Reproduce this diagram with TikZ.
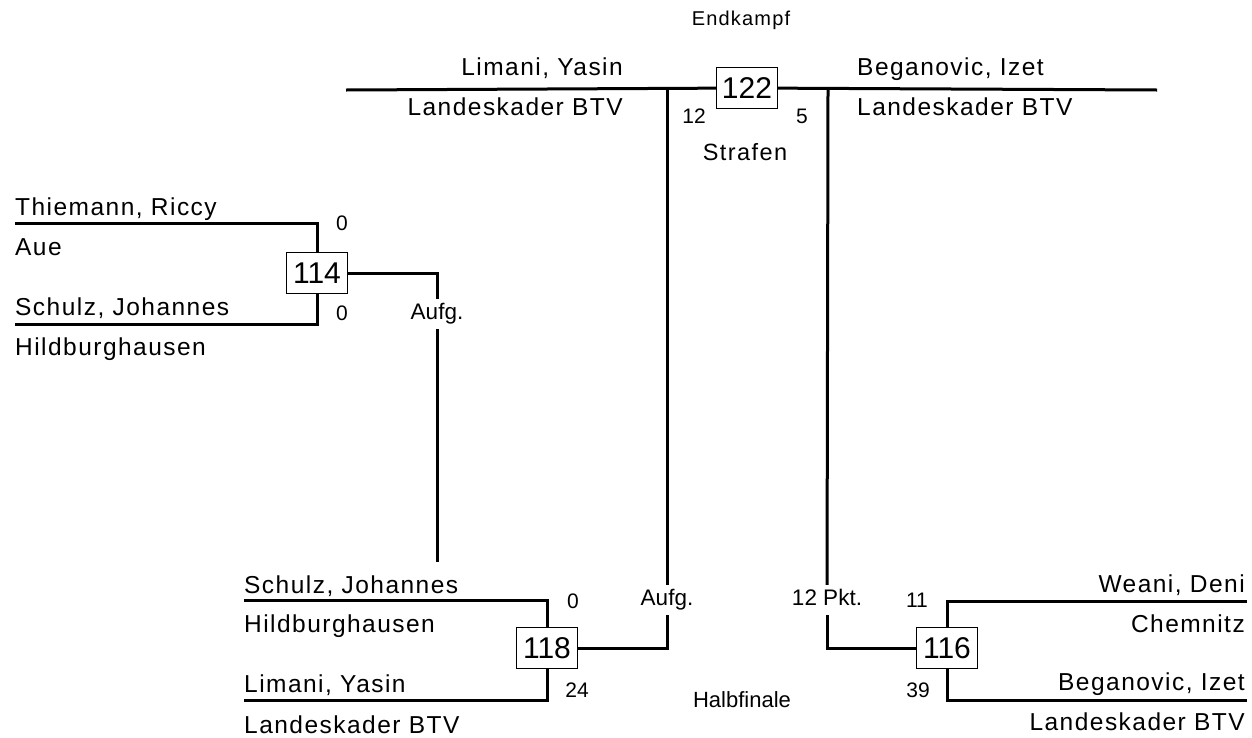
\documentclass[tikz,border=0pt]{standalone}
\usepackage{fontspec}
\setmainfont{Liberation Sans}
\newfontfamily\spaced[LetterSpace=6]{Liberation Sans}
\usepackage{tikz}
\usetikzlibrary{positioning}
\tikzset{wire/.style={line width=3pt},
  fighter/.style={inner sep=0pt, font=\spaced\fontsize{24.5}{27}\selectfont},
  score/.style={inner sep=0pt, font=\fontsize{21}{23}\selectfont},
  result/.style={inner sep=0pt, text height=15pt, text depth=5pt, inner ysep=5pt, font=\fontsize{22.5}{25}\selectfont},
  bout/.style={draw, line width=1pt, inner sep=0pt, minimum width=61pt, minimum height=41pt, font=\fontsize{30}{32}\selectfont}}

\begin{document}
\begin{tikzpicture}[x=1pt, y=-1pt]
                \useasboundingbox (0,0) rectangle (1252,737);

                % Endkampf
                \node [score, font=\spaced\fontsize{20}{22}\selectfont] (ek) at (741,20) {Endkampf};
                \node [bout] (m122) at (747,88) {122};
                \coordinate (f1) at (346,90);
                \coordinate (f2) at (1157,90);
                \coordinate (k1) at (667,90);
                \coordinate (k2) at (828,90);
                \node [fighter, anchor=base east] (fa) at (623,75) {Limani, Yasin};
                \node [fighter, anchor=base east] (fb) at (623,115) {Landeskader BTV};
                \node [fighter, anchor=base west] (fc) at (857,75) {Beganovic, Izet};
                \node [fighter, anchor=base west] (fd) at (857,115) {Landeskader BTV};
                \node [score, anchor=base] (s122a) at (694,123) {12};
                \node [score, anchor=base] (s122b) at (802,123) {5};
                \node [score, anchor=base, font=\spaced\fontsize{23.5}{26}\selectfont] (st) at (745,160) {Strafen};

                \path[wire] (f1) edge (m122) (m122) edge (f2);

                % Kampf 114
                \node [bout] (m114) at (317,273) {114};
                \coordinate (p1) at (15,223);
                \coordinate (p2) at (15,324);
                \coordinate (e114) at (437,562);
                \node [fighter, anchor=base west] (na) at (15,215) {Thiemann, Riccy};
                \node [fighter, anchor=base west] (nb) at (15,255) {Aue};
                \node [fighter, anchor=base west] (nc) at (15,315) {Schulz, Johannes};
                \node [fighter, anchor=base west] (nd) at (15,355) {Hildburghausen};
                \node [score, anchor=base] (s114a) at (342,230) {0};
                \node [score, anchor=base] (s114b) at (342,320) {0};
                \node [result] (a114) at (437,314) {Aufg.};

                \draw[wire] (p1) -| (m114);
                \draw[wire] (p2) -| (m114);
                \draw[wire] (m114) -| (a114);
                \draw[wire] (a114) -- (e114);

                % Kampf 118
                \node [bout] (m118) at (547,648) {118};
                \coordinate (q1) at (244,600);
                \coordinate (q2) at (244,700);
                \node [fighter, anchor=base west] (ne) at (244,593) {Schulz, Johannes};
                \node [fighter, anchor=base west] (nf) at (244,632) {Hildburghausen};
                \node [fighter, anchor=base west] (ng) at (244,692) {Limani, Yasin};
                \node [fighter, anchor=base west] (nh) at (244,733) {Landeskader BTV};
                \node [score, anchor=base] (s118a) at (573,608) {0};
                \node [score, anchor=base] (s118b) at (577,697) {24};
                \node [result] (a118) at (667,600) {Aufg.};

                \draw[wire] (q1) -| (m118);
                \draw[wire] (q2) -| (m118);
                \draw[wire] (m118) -| (a118);
                \draw[wire] (a118) -- (k1);

                % Kampf 116
                \node [bout] (m116) at (947,648) {116};
                \coordinate (r1) at (1247,601);
                \coordinate (r2) at (1247,700);
                \node [fighter, anchor=base east] (ni) at (1245,592) {Weani, Deni};
                \node [fighter, anchor=base east] (nj) at (1245,632) {Chemnitz};
                \node [fighter, anchor=base east] (nk) at (1245,690) {Beganovic, Izet};
                \node [fighter, anchor=base east] (nl) at (1245,730) {Landeskader BTV};
                \node [score, anchor=base] (s116a) at (917,607) {11};
                \node [score, anchor=base] (s116b) at (918,697) {39};
                \node [result] (a116) at (827,600) {12 Pkt.};

                \draw[wire] (r1) -| (m116);
                \draw[wire] (r2) -| (m116);
                \draw[wire] (m116) -| (a116);
                \draw[wire] (a116) -- (k2);

                \node [score, anchor=base, font=\fontsize{22}{24}\selectfont] (hf) at (742,707) {Halbfinale};

\end{tikzpicture}
\end{document}
